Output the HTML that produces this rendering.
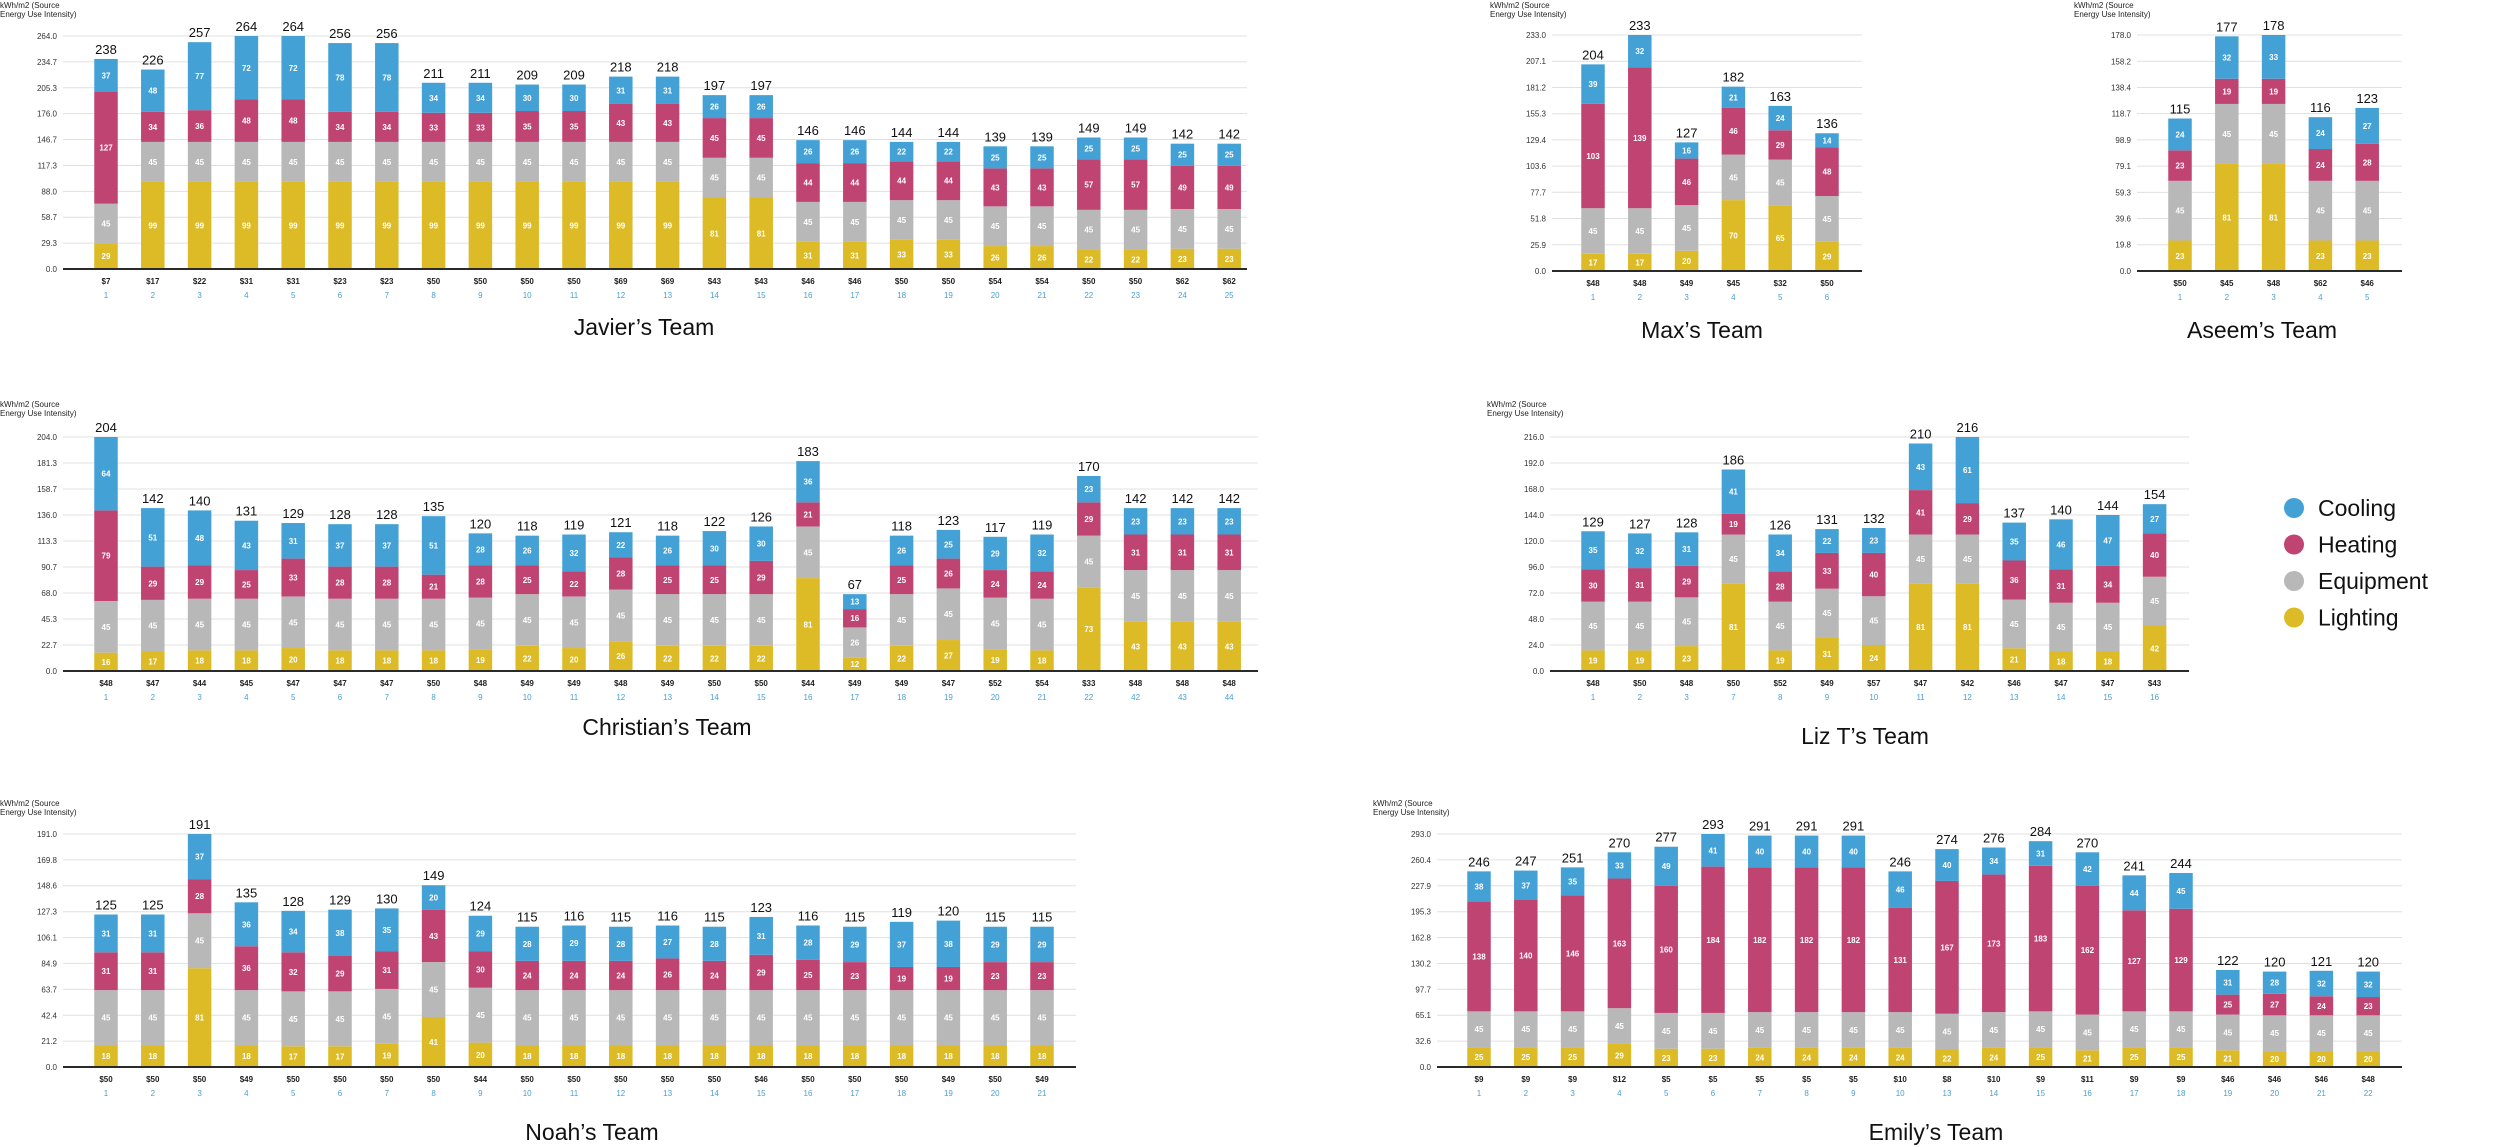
<!DOCTYPE html>
<html><head><meta charset="utf-8">
<style>
html,body{margin:0;padding:0;background:#fff;}
svg{display:block;font-family:"Liberation Sans",sans-serif;}
</style></head>
<body>
<svg id="chart" width="2496" height="1147" viewBox="0 0 2496 1147" xmlns="http://www.w3.org/2000/svg"></svg>
<script>
// ---- Javier's Team ----
const javierIds = ['1','2','3','4','5','6','7','8','9','10','11','12','13','14','15','16','17','18','19','20','21','22','23','24','25'];
const javierPrice = ['$7','$17','$22','$31','$31','$23','$23','$50','$50','$50','$50','$69','$69','$43','$43','$46','$46','$50','$50','$54','$54','$50','$50','$62','$62'];
const javierLighting = [29,99,99,99,99,99,99,99,99,99,99,99,99,81,81,31,31,33,33,26,26,22,22,23,23];
const javierEquipment = [45,45,45,45,45,45,45,45,45,45,45,45,45,45,45,45,45,45,45,45,45,45,45,45,45];
const javierHeating = [127,34,36,48,48,34,34,33,33,35,35,43,43,45,45,44,44,44,44,43,43,57,57,49,49];
const javierCooling = [37,48,77,72,72,78,78,34,34,30,30,31,31,26,26,26,26,22,22,25,25,25,25,25,25];
const javierTicks = ['0.0','29.3','58.7','88.0','117.3','146.7','176.0','205.3','234.7','264.0'];
// ---- Max's Team ----
const maxIds = ['1','2','3','4','5','6'];
const maxPrice = ['$48','$48','$49','$45','$32','$50'];
const maxLighting = [17,17,20,70,65,29];
const maxEquipment = [45,45,45,45,45,45];
const maxHeating = [103,139,46,46,29,48];
const maxCooling = [39,32,16,21,24,14];
const maxTicks = ['0.0','25.9','51.8','77.7','103.6','129.4','155.3','181.2','207.1','233.0'];
// ---- Aseem's Team ----
const aseemIds = ['1','2','3','4','5'];
const aseemPrice = ['$50','$45','$48','$62','$46'];
const aseemLighting = [23,81,81,23,23];
const aseemEquipment = [45,45,45,45,45];
const aseemHeating = [23,19,19,24,28];
const aseemCooling = [24,32,33,24,27];
const aseemTicks = ['0.0','19.8','39.6','59.3','79.1','98.9','118.7','138.4','158.2','178.0'];
// ---- Christian's Team ----
const christianIds = ['1','2','3','4','5','6','7','8','9','10','11','12','13','14','15','16','17','18','19','20','21','22','42','43','44'];
const christianPrice = ['$48','$47','$44','$45','$47','$47','$47','$50','$48','$49','$49','$48','$49','$50','$50','$44','$49','$49','$47','$52','$54','$33','$48','$48','$48'];
const christianLighting = [16,17,18,18,20,18,18,18,19,22,20,26,22,22,22,81,12,22,27,19,18,73,43,43,43];
const christianEquipment = [45,45,45,45,45,45,45,45,45,45,45,45,45,45,45,45,26,45,45,45,45,45,45,45,45];
const christianHeating = [79,29,29,25,33,28,28,21,28,25,22,28,25,25,29,21,16,25,26,24,24,29,31,31,31];
const christianCooling = [64,51,48,43,31,37,37,51,28,26,32,22,26,30,30,36,13,26,25,29,32,23,23,23,23];
const christianTicks = ['0.0','22.7','45.3','68.0','90.7','113.3','136.0','158.7','181.3','204.0'];
// ---- Liz T's Team ----
const lizIds = ['1','2','3','7','8','9','10','11','12','13','14','15','16'];
const lizPrice = ['$48','$50','$48','$50','$52','$49','$57','$47','$42','$46','$47','$47','$43'];
const lizLighting = [19,19,23,81,19,31,24,81,81,21,18,18,42];
const lizEquipment = [45,45,45,45,45,45,45,45,45,45,45,45,45];
const lizHeating = [30,31,29,19,28,33,40,41,29,36,31,34,40];
const lizCooling = [35,32,31,41,34,22,23,43,61,35,46,47,27];
const lizTicks = ['0.0','24.0','48.0','72.0','96.0','120.0','144.0','168.0','192.0','216.0'];
// ---- Noah's Team ----
const noahIds = ['1','2','3','4','5','6','7','8','9','10','11','12','13','14','15','16','17','18','19','20','21'];
const noahPrice = ['$50','$50','$50','$49','$50','$50','$50','$50','$44','$50','$50','$50','$50','$50','$46','$50','$50','$50','$49','$50','$49'];
const noahLighting = [18,18,81,18,17,17,19,41,20,18,18,18,18,18,18,18,18,18,18,18,18];
const noahEquipment = [45,45,45,45,45,45,45,45,45,45,45,45,45,45,45,45,45,45,45,45,45];
const noahHeating = [31,31,28,36,32,29,31,43,30,24,24,24,26,24,29,25,23,19,19,23,23];
const noahCooling = [31,31,37,36,34,38,35,20,29,28,29,28,27,28,31,28,29,37,38,29,29];
const noahTicks = ['0.0','21.2','42.4','63.7','84.9','106.1','127.3','148.6','169.8','191.0'];
// ---- Emily's Team ----
const emilyIds = ['1','2','3','4','5','6','7','8','9','10','13','14','15','16','17','18','19','20','21','22'];
const emilyPrice = ['$9','$9','$9','$12','$5','$5','$5','$5','$5','$10','$8','$10','$9','$11','$9','$9','$46','$46','$46','$48'];
const emilyLighting = [25,25,25,29,23,23,24,24,24,24,22,24,25,21,25,25,21,20,20,20];
const emilyEquipment = [45,45,45,45,45,45,45,45,45,45,45,45,45,45,45,45,45,45,45,45];
const emilyHeating = [138,140,146,163,160,184,182,182,182,131,167,173,183,162,127,129,25,27,24,23];
const emilyCooling = [38,37,35,33,49,41,40,40,40,46,40,34,31,42,44,45,31,28,32,32];
const emilyTicks = ['0.0','32.6','65.1','97.7','130.2','162.8','195.3','227.9','260.4','293.0'];

const legendNames = ['Cooling','Heating','Equipment','Lighting'];
const COL = {Lighting:'#dcbb26', Equipment:'#b8b8b8', Heating:'#c04472', Cooling:'#44a1d5'};
const NS = 'http://www.w3.org/2000/svg';
const svg = document.getElementById('chart');
function mk(tag, attrs, parent, text){
  const e = document.createElementNS(NS, tag);
  for (const k in attrs) e.setAttribute(k, attrs[k]);
  if (text !== undefined) e.textContent = text;
  (parent || svg).appendChild(e);
  return e;
}

function panel(cfg){
  const g = mk('g', {});
  
  
  const max = parseFloat(cfg.ticks[cfg.ticks.length-1]);
  const yScale = v => cfg.zero - v / max * (cfg.zero - cfg.top);
  const xScale = i => cfg.first + i * 46.8;
  const at = mk('text', {x: cfg.atx, y: cfg.aty, 'font-size': 8, fill: '#222'}, g);
  
  
  mk('tspan', {x: cfg.atx, dy: 0}, at, 'kWh/m2 (Source');
  mk('tspan', {x: cfg.atx, dy: 9}, at, 'Energy Use Intensity)');
  cfg.ticks.forEach(t => {
    const y = yScale(parseFloat(t));
    const ln = mk('line', {x1: cfg.gl, x2: cfg.gr, y1: y, y2: y, stroke: '#e0e0e0', 'stroke-width': 1}, g);
    
    
    const tx = mk('text', {x: cfg.gl - 6, y: y + 3, 'font-size': 8, 'text-anchor': 'end', fill: '#333'}, g, t);
    
    
  });
  const series = [['Lighting', cfg.L], ['Equipment', cfg.E], ['Heating', cfg.H], ['Cooling', cfg.C]];
  cfg.ids.forEach((id, i) => {
    const cx = xScale(i);
    const bw = 23.5;
    let acc = 0;
    series.forEach(([name, arr]) => {
      const v = arr[i];
      const y0 = yScale(acc), y1 = yScale(acc + v);
      const r = mk('rect', {x: cx - bw/2, y: y1, width: bw, height: y0 - y1, fill: COL[name]}, g);
      
      
      const sl = mk('text', {x: cx, y: (y0 + y1)/2 + 3, 'font-size': 8, 'text-anchor': 'middle', fill: '#fff', 'font-weight': 'bold'}, g, String(v));
      
      
      acc += v;
    });
    const tl = mk('text', {x: cx, y: yScale(acc) - 5, 'font-size': 13, 'text-anchor': 'middle', fill: '#111'}, g, String(acc));
    
    
    const pl = mk('text', {x: cx, y: cfg.zero + 15, 'font-size': 8, 'text-anchor': 'middle', fill: '#222', 'font-weight': 'bold'}, g, cfg.price[i]);
    
    
    const il = mk('text', {x: cx, y: cfg.zero + 29, 'font-size': 8, 'text-anchor': 'middle', fill: '#4a9fd0'}, g, id);
    
    
  });
  const ax = mk('line', {x1: cfg.gl, x2: cfg.gr, y1: cfg.zero, y2: cfg.zero, stroke: '#2a2a2a', 'stroke-width': 2}, g);
  
  
  const tt = mk('text', {x: cfg.tx, y: cfg.ty + 8, 'font-size': 23, 'text-anchor': 'middle', fill: '#111'}, g, cfg.title);
  
  
}

panel({slug:'javier', title:"Javier\u2019s Team", ids:javierIds, price:javierPrice, L:javierLighting, E:javierEquipment, H:javierHeating, C:javierCooling, ticks:javierTicks,
  gl:63, gr:1247, top:36, zero:269, first:106, atx:0, aty:8, tx:644, ty:327});
panel({slug:'max', title:"Max\u2019s Team", ids:maxIds, price:maxPrice, L:maxLighting, E:maxEquipment, H:maxHeating, C:maxCooling, ticks:maxTicks,
  gl:1552, gr:1862, top:35, zero:271, first:1593, atx:1490, aty:8, tx:1702, ty:330});
panel({slug:'aseem', title:"Aseem\u2019s Team", ids:aseemIds, price:aseemPrice, L:aseemLighting, E:aseemEquipment, H:aseemHeating, C:aseemCooling, ticks:aseemTicks,
  gl:2137, gr:2402, top:35, zero:271, first:2180, atx:2074, aty:8, tx:2262, ty:330});
panel({slug:'christian', title:"Christian\u2019s Team", ids:christianIds, price:christianPrice, L:christianLighting, E:christianEquipment, H:christianHeating, C:christianCooling, ticks:christianTicks,
  gl:63, gr:1258, top:437, zero:671, first:106, atx:0, aty:407, tx:667, ty:727});
panel({slug:'liz', title:"Liz T\u2019s Team", ids:lizIds, price:lizPrice, L:lizLighting, E:lizEquipment, H:lizHeating, C:lizCooling, ticks:lizTicks,
  gl:1550, gr:2189, top:437, zero:671, first:1593, atx:1487, aty:407, tx:1865, ty:736});
panel({slug:'noah', title:"Noah\u2019s Team", ids:noahIds, price:noahPrice, L:noahLighting, E:noahEquipment, H:noahHeating, C:noahCooling, ticks:noahTicks,
  gl:63, gr:1076, top:834, zero:1067, first:106, atx:0, aty:806, tx:592, ty:1132});
panel({slug:'emily', title:"Emily\u2019s Team", ids:emilyIds, price:emilyPrice, L:emilyLighting, E:emilyEquipment, H:emilyHeating, C:emilyCooling, ticks:emilyTicks,
  gl:1437, gr:2402, top:834, zero:1067, first:1479, atx:1373, aty:806, tx:1936, ty:1132});

const lg = mk('g', {});


legendNames.forEach((n, i) => {
  const y = 508 + i * 36.5;
  const c = mk('circle', {cx: 2294, cy: y, r: 10, fill: COL[n]}, lg);
  
  
  const t = mk('text', {x: 2318, y: y + 8, 'font-size': 23, fill: '#111'}, lg, n);
  
  
});
</script>
</body></html>
